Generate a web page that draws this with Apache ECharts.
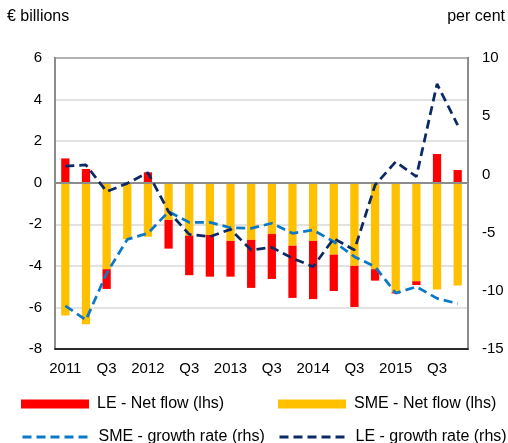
<!DOCTYPE html>
<html>
<head>
<meta charset="utf-8">
<script src="https://cdn.jsdelivr.net/npm/echarts@6/dist/echarts.min.js"></script>
<style>
html,body{margin:0;padding:0;background:#fff;}
#chart{width:508px;height:443px;}
</style>
</head>
<body>
<div id="chart"></div>
<script>
var categories = ['2011','Q2','Q3','Q4','2012','Q2','Q3','Q4','2013','Q2','Q3','Q4','2014','Q2','Q3','Q4','2015','Q2','Q3','Q4'];
var leNetFlow  = [1.17, 0.66, -0.95, 0, 0.5, -1.38, -1.9, -2.01, -1.72, -2.31, -2.16, -2.51, -2.8, -1.75, -1.98, -0.55, -0.06, -0.18, 1.38, 0.61];
var smeNetFlow = [-6.39, -6.81, -4.16, -2.72, -2.6, -1.79, -2.55, -2.51, -2.8, -2.75, -2.47, -3.03, -2.8, -3.46, -4.0, -4.16, -5.27, -4.74, -5.14, -4.95];
var smeGrowth  = [-11.3, -12.5, -8.5, -5.58, -5.06, -3.2, -4.12, -4.12, -4.58, -4.63, -4.2, -5.06, -4.78, -5.78, -7.07, -7.93, -10.2, -9.65, -10.65, -11.1];
var leGrowth   = [0.72, 0.81, -1.48, -0.77, 0.15, -3.2, -5.15, -5.35, -4.72, -6.5, -6.27, -7.2, -7.93, -5.5, -6.5, -0.91, 1.09, -0.2, 7.77, 4.24];
var leftTicks = {min: -8, max: 6, interval: 2};
var rightTicks = {min: -15, max: 10, interval: 5};

var FONT = 'Liberation Sans, Arial, sans-serif';
var RED = '#FF0000', YELLOW = '#FFC000', BLUE = '#0B78C8', NAVY = '#0B2A63';

var chart = echarts.init(document.getElementById('chart'), null, {renderer: 'canvas'});
function legendOf(name, left, top, isLine) {
  var l = {
    data: [isLine ? name : {name: name, icon: 'rect'}],
    left: left, top: top, padding: 0,
    itemWidth: 68, itemHeight: 9, itemGap: 0,
    textStyle: {fontFamily: FONT, fontSize: 16, color: '#000', padding: [0, 0, 0, 3]},
    selectedMode: false
  };
  if (isLine) { l.itemStyle = {opacity: 0}; l.lineStyle = {width: 3}; }
  return l;
}
chart.setOption({
  animation: false,
  grid: {left: 55, right: 40, top: 58, bottom: 94, show: true, borderColor: '#000', borderWidth: 1.5, containLabel: false},
  graphic: [
    {type: 'text', left: 7, top: 9, style: {text: '€ billions', font: '16px ' + FONT, fill: '#000'}},
    {type: 'text', right: 3, top: 9, style: {text: 'per cent', font: '16px ' + FONT, fill: '#000'}}
  ],
  legend: [
    legendOf('LE - Net flow (lhs)', 21, 396, false),
    legendOf('SME - Net flow (lhs)', 278, 396, false),
    legendOf('SME - growth rate (rhs)', 21, 429, true),
    legendOf('LE - growth rate (rhs)', 278, 429, true)
  ],
  xAxis: {
    type: 'category', data: categories, boundaryGap: true,
    axisLine: {onZero: false, lineStyle: {color: '#000', width: 1.5}},
    axisTick: {show: false},
    axisLabel: {interval: 1, margin: 12, fontFamily: FONT, fontSize: 15, color: '#000'},
    splitLine: {show: false}
  },
  yAxis: [
    {type: 'value', min: leftTicks.min, max: leftTicks.max, interval: leftTicks.interval, position: 'left',
     axisLine: {show: true, lineStyle: {color: '#8c8c8c', width: 2}}, axisTick: {show: false},
     axisLabel: {margin: 13, fontFamily: FONT, fontSize: 15, color: '#000'},
     splitLine: {show: true, lineStyle: {color: '#d9d9d9', width: 1.5}}},
    {type: 'value', min: rightTicks.min, max: rightTicks.max, interval: rightTicks.interval, position: 'right',
     axisLine: {show: true, lineStyle: {color: '#8c8c8c', width: 2}}, axisTick: {show: false},
     axisLabel: {margin: 14, fontFamily: FONT, fontSize: 15, color: '#000'},
     splitLine: {show: false}}
  ],
  series: [
    {name: 'SME - Net flow (lhs)', type: 'bar', stack: 'flow', data: smeNetFlow, barWidth: '40%',
     itemStyle: {color: YELLOW}, z: 2,
     markLine: {silent: true, symbol: 'none', label: {show: false},
       lineStyle: {color: '#8c8c8c', width: 2, type: 'solid'}, data: [{yAxis: 0}]}},
    {name: 'LE - Net flow (lhs)', type: 'bar', stack: 'flow', data: leNetFlow, barWidth: '40%',
     itemStyle: {color: RED}, z: 2},
    {name: 'SME - growth rate (rhs)', type: 'line', yAxisIndex: 1, data: smeGrowth, symbol: 'none', z: 4,
     lineStyle: {color: BLUE, width: 2.75, type: [9, 5]}, itemStyle: {color: BLUE}},
    {name: 'LE - growth rate (rhs)', type: 'line', yAxisIndex: 1, data: leGrowth, symbol: 'none', z: 5,
     lineStyle: {color: NAVY, width: 2.75, type: [9, 5]}, itemStyle: {color: NAVY}}
  ]
});
</script>
</body>
</html>
